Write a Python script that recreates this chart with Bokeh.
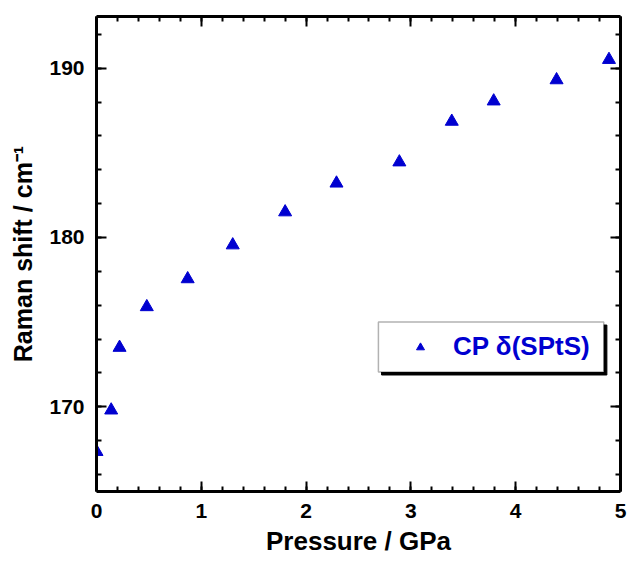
from bokeh.plotting import figure
from bokeh.models import Range1d, LinearAxis, Legend, LegendItem, BoxAnnotation, FixedTicker, CustomJSTickFormatter
from bokeh.embed import file_html
from bokeh.resources import INLINE

# data
pressure = [0.00, 0.14, 0.22, 0.48, 0.87, 1.30, 1.80, 2.29, 2.89, 3.39, 3.79, 4.39, 4.89]
raman = [167.35, 169.8, 173.5, 175.9, 177.55, 179.55, 181.5, 183.2, 184.45, 186.85, 188.05, 189.3, 190.5]
series_label = "CP \u03b4(SPtS)"
x_ticks = [0, 1, 2, 3, 4, 5]
y_ticks = [170, 180, 190]

BLUE = "#0000D0"
FONT = "Liberation Sans"

p = figure(width=628, height=560, output_backend="svg", toolbar_location=None,
           x_range=Range1d(0, 5), y_range=Range1d(165, 193.05),
           min_border_left=96, min_border_right=8, min_border_top=16, min_border_bottom=69,
           x_axis_location=None, y_axis_location=None)
p.grid.visible = False
p.outline_line_color = None
p.background_fill_color = "white"

def style_axis(ax, labels=True):
    ax.axis_line_width = 3
    ax.axis_line_color = "black"
    ax.major_tick_in = 10
    ax.major_tick_out = 0
    ax.minor_tick_in = 5
    ax.minor_tick_out = 0
    ax.major_tick_line_width = 2
    ax.minor_tick_line_width = 2
    ax.major_label_text_font = FONT
    ax.major_label_text_font_style = "bold"
    ax.major_label_text_font_size = "21px"
    ax.major_label_text_color = "black"
    ax.axis_label_text_font = FONT
    ax.axis_label_text_font_style = "bold"
    ax.axis_label_text_font_size = "26px"
    ax.axis_label_text_color = "black"
    if not labels:
        ax.formatter = CustomJSTickFormatter(code="return '';")
        ax.major_label_standoff = 0

xminor = [i * 0.2 for i in range(26)]
yminor = list(range(166, 194, 2))

xb = LinearAxis(ticker=FixedTicker(ticks=x_ticks, minor_ticks=xminor), axis_label="Pressure / GPa")
style_axis(xb)
xb.major_label_standoff = 12
xb.axis_label_standoff = 5
p.add_layout(xb, "below")

yl = LinearAxis(ticker=FixedTicker(ticks=y_ticks, minor_ticks=yminor),
                axis_label="Raman shift / cm\u207b\u00b9")
style_axis(yl)
yl.axis_label_text_font_size = "25px"
yl.major_label_standoff = 12
yl.axis_label_standoff = 9
p.add_layout(yl, "left")

xt = LinearAxis(ticker=FixedTicker(ticks=x_ticks, minor_ticks=xminor))
style_axis(xt, labels=False)
p.add_layout(xt, "above")

yr = LinearAxis(ticker=FixedTicker(ticks=y_ticks, minor_ticks=yminor))
style_axis(yr, labels=False)
p.add_layout(yr, "right")

r = p.scatter(pressure, raman, marker="triangle", size=13, fill_color=BLUE, line_color=BLUE)

# legend frame with shadow
shadow = BoxAnnotation(left=2.72, right=4.87, bottom=171.88, top=174.83,
                       fill_color="black", fill_alpha=1, line_color="black", line_alpha=1)
frame = BoxAnnotation(left=2.69, right=4.84, bottom=172.06, top=175.01,
                      fill_color="white", fill_alpha=1, line_color="black", line_width=1.5)
p.add_layout(shadow)
p.add_layout(frame)

legend = Legend(items=[LegendItem(label=series_label, renderers=[r])],
                location=(314, 129), border_line_alpha=0, background_fill_alpha=0,
                padding=0, margin=0, glyph_width=20, glyph_height=30, label_height=30,
                label_standoff=23, label_text_font=FONT, label_text_font_style="bold",
                label_text_font_size="26px", label_text_color=BLUE)
p.add_layout(legend, "center")

open("out.html", "w").write(file_html(p, INLINE))
